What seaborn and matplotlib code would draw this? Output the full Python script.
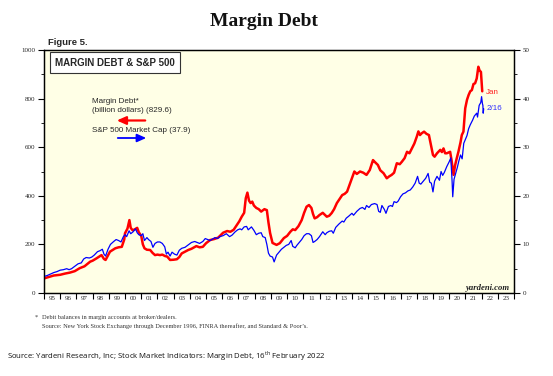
import numpy as np
import pandas as pd
import matplotlib
matplotlib.use("Agg")
import matplotlib.pyplot as plt
import seaborn as sns
from matplotlib.ticker import FixedLocator, MultipleLocator, NullFormatter

# ---------------- data ----------------
margin_year = [1995.0, 1995.3, 1995.6, 1996.0, 1996.3, 1996.6, 1996.9, 1997.2, 1997.5, 1997.85,
               1998.0, 1998.25, 1998.55, 1998.7, 1998.8, 1999.07, 1999.4, 1999.6, 1999.8, 1999.95,
               2000.0, 2000.15, 2000.27, 2000.35, 2000.47, 2000.6, 2000.75, 2000.85, 2001.0, 2001.1,
               2001.2, 2001.35, 2001.55, 2001.7, 2001.85, 2002.0, 2002.16, 2002.3, 2002.47, 2002.6,
               2002.78, 2003.0, 2003.2, 2003.35, 2003.5, 2003.7, 2003.9, 2004.1, 2004.4, 2004.6,
               2004.8, 2005.0, 2005.25, 2005.5, 2005.75, 2006.05, 2006.3, 2006.5, 2006.7, 2006.9,
               2007.05, 2007.2, 2007.35, 2007.45, 2007.55, 2007.65, 2007.75, 2007.85, 2007.95, 2008.1,
               2008.25, 2008.4, 2008.6, 2008.75, 2008.85, 2008.95, 2009.1, 2009.35, 2009.55, 2009.8,
               2010.0, 2010.2, 2010.35, 2010.5, 2010.7, 2010.9, 2011.05, 2011.2, 2011.35, 2011.5,
               2011.6, 2011.7, 2011.85, 2012.0, 2012.2, 2012.45, 2012.6, 2012.75, 2012.9, 2013.07,
               2013.25, 2013.4, 2013.55, 2013.7, 2013.85, 2014.0, 2014.15, 2014.3, 2014.5, 2014.7,
               2014.9, 2015.1, 2015.3, 2015.4, 2015.6, 2015.75, 2015.95, 2016.15, 2016.3, 2016.45,
               2016.6, 2016.77, 2016.95, 2017.08, 2017.25, 2017.4, 2017.55, 2017.7, 2017.85, 2018.0,
               2018.1, 2018.2, 2018.3, 2018.45, 2018.6, 2018.75, 2018.9, 2019.0, 2019.1, 2019.25,
               2019.45, 2019.55, 2019.65, 2019.75, 2019.85, 2020.06, 2020.15, 2020.27, 2020.37, 2020.47,
               2020.57, 2020.7, 2020.78, 2020.88, 2020.99, 2021.1, 2021.2, 2021.3, 2021.4, 2021.5,
               2021.6, 2021.7, 2021.8, 2021.88, 2021.96, 2022.04]
margin_debt = [60, 66, 72, 75, 80, 84, 90, 102, 110, 129,
               133, 143, 156, 140, 136, 170, 184, 188, 190, 220,
               246, 265, 300, 268, 258, 262, 268, 250, 235, 200,
               184, 178, 177, 165, 156, 158, 156, 158, 152, 150,
               136, 137, 139, 148, 163, 170, 177, 182, 193, 188,
               190, 205, 218, 222, 228, 248, 255, 252, 260, 280,
               295, 314, 330, 390, 413, 380, 370, 376, 360, 350,
               345, 335, 345, 341, 290, 247, 206, 198, 205, 226,
               235, 252, 262, 259, 275, 300, 330, 355, 362, 350,
               325, 307, 312, 321, 330, 314, 318, 329, 345, 370,
               388, 403, 408, 417, 445, 473, 500, 490, 500, 495,
               486, 506, 547, 540, 527, 505, 493, 472, 480, 486,
               495, 534, 530, 540, 555, 581, 575, 595, 615, 643,
               665, 650, 657, 664, 655, 650, 600, 568, 561, 575,
               589, 580, 595, 575, 575, 581, 545, 486, 527, 555,
               581, 620, 650, 664, 760, 795, 815, 830, 835, 860,
               863, 883, 931, 915, 910, 830]

sp_year = [1995.0, 1995.2, 1995.4, 1995.6, 1995.8, 1996.0, 1996.2, 1996.4, 1996.55, 1996.7,
           1996.9, 1997.1, 1997.3, 1997.45, 1997.6, 1997.8, 1997.95, 1998.1, 1998.3, 1998.45,
           1998.6, 1998.7, 1998.8, 1998.95, 1999.1, 1999.3, 1999.45, 1999.6, 1999.75, 1999.9,
           2000.0, 2000.1, 2000.25, 2000.35, 2000.5, 2000.65, 2000.75, 2000.85, 2001.0, 2001.1,
           2001.2, 2001.35, 2001.45, 2001.6, 2001.72, 2001.85, 2002.0, 2002.15, 2002.3, 2002.45,
           2002.55, 2002.65, 2002.78, 2002.9, 2003.05, 2003.2, 2003.35, 2003.5, 2003.7, 2003.9,
           2004.1, 2004.3, 2004.45, 2004.6, 2004.8, 2004.95, 2005.1, 2005.25, 2005.4, 2005.55,
           2005.7, 2005.85, 2006.05, 2006.25, 2006.45, 2006.6, 2006.8, 2006.95, 2007.1, 2007.2,
           2007.35, 2007.5, 2007.6, 2007.7, 2007.8, 2007.95, 2008.1, 2008.25, 2008.4, 2008.5,
           2008.65, 2008.75, 2008.85, 2008.95, 2009.1, 2009.2, 2009.35, 2009.5, 2009.65, 2009.8,
           2009.95, 2010.1, 2010.25, 2010.35, 2010.5, 2010.6, 2010.75, 2010.9, 2011.05, 2011.2,
           2011.35, 2011.5, 2011.6, 2011.7, 2011.85, 2012.0, 2012.2, 2012.35, 2012.45, 2012.6,
           2012.75, 2012.85, 2013.0, 2013.2, 2013.4, 2013.5, 2013.65, 2013.8, 2014.0, 2014.1,
           2014.3, 2014.5, 2014.65, 2014.8, 2014.9, 2015.05, 2015.2, 2015.4, 2015.55, 2015.65,
           2015.75, 2015.85, 2016.0, 2016.1, 2016.25, 2016.4, 2016.5, 2016.6, 2016.75, 2016.85,
           2017.0, 2017.15, 2017.3, 2017.45, 2017.6, 2017.75, 2017.9, 2018.05, 2018.15, 2018.25,
           2018.4, 2018.55, 2018.7, 2018.8, 2018.9, 2019.0, 2019.1, 2019.25, 2019.4, 2019.5,
           2019.6, 2019.7, 2019.85, 2020.0, 2020.1, 2020.18, 2020.22, 2020.3, 2020.4, 2020.5,
           2020.6, 2020.7, 2020.8, 2020.9, 2021.0, 2021.1, 2021.2, 2021.3, 2021.45, 2021.55,
           2021.7, 2021.75, 2021.85, 2021.95, 2022.0, 2022.05, 2022.08, 2022.1, 2022.13]
sp_mktcap = [3.4, 3.6, 3.9, 4.2, 4.4, 4.7, 4.8, 5.0, 4.8, 5.0,
             5.5, 6.0, 6.2, 7.0, 7.3, 7.2, 7.4, 7.8, 8.5, 8.7,
             9.0, 8.0, 7.6, 9.0, 10.0, 10.6, 11.0, 10.8, 10.5, 11.6,
             12.0, 11.6, 12.8, 12.2, 12.6, 13.2, 12.4, 12.0, 11.8, 12.2,
             10.8, 11.4, 11.0, 10.6, 9.4, 10.2, 10.5, 10.5, 10.2, 9.5,
             8.0, 8.4, 7.6, 8.4, 8.0, 7.8, 8.8, 9.2, 9.4, 9.9,
             10.4, 10.6, 10.4, 10.2, 10.6, 11.2, 11.0, 10.8, 11.1, 11.4,
             11.2, 11.6, 11.8, 12.2, 11.6, 11.9, 12.6, 13.0, 13.2, 13.0,
             13.6, 13.7, 13.0, 13.3, 13.6, 12.9, 12.0, 12.3, 12.4, 11.6,
             11.4, 10.0, 8.2, 7.6, 7.4, 6.4, 7.8, 8.4, 9.0, 9.4,
             9.8, 10.0, 10.8, 9.6, 9.3, 9.8, 10.4, 11.0, 11.8, 12.2,
             12.2, 11.8, 10.4, 10.6, 11.0, 11.6, 12.6, 12.0, 12.4, 12.7,
             12.8, 12.3, 13.5, 14.2, 14.8, 14.6, 15.4, 15.8, 16.4, 16.0,
             16.8, 17.4, 17.6, 17.2, 18.0, 17.6, 18.2, 18.4, 18.2, 16.8,
             16.6, 18.0, 17.2, 16.4, 17.8, 18.0, 17.8, 18.8, 18.6, 18.9,
             19.8, 20.4, 20.6, 21.0, 21.2, 21.8, 22.6, 24.0, 22.6, 22.4,
             23.0, 23.6, 24.6, 22.8, 22.6, 20.8, 23.0, 24.0, 23.2, 25.0,
             24.2, 24.8, 26.0, 27.0, 27.8, 23.0, 19.8, 23.4, 24.6, 25.8,
             27.2, 28.4, 27.6, 30.8, 31.6, 32.4, 33.8, 34.6, 35.6, 36.4,
             37.0, 36.2, 38.6, 39.2, 40.4, 39.0, 38.6, 37.0, 37.9]

year_labels = ["95", "96", "97", "98", "99", "00", "01", "02", "03", "04", "05", "06", "07", "08",
               "09", "10", "11", "12", "13", "14", "15", "16", "17", "18", "19", "20", "21", "22", "23"]
left_ticks = [0, 200, 400, 600, 800, 1000]
right_ticks = [0, 10, 20, 30, 40, 50]

margin_df = pd.DataFrame({"year": margin_year, "value": margin_debt})
sp_df = pd.DataFrame({"year": sp_year, "value": sp_mktcap})

# ---------------- figure ----------------
sns.set_theme(style="white")
plt.rcParams["font.family"] = ["Liberation Sans", "DejaVu Sans"]

W, H = 553, 376
fig = plt.figure(figsize=(W / 100, H / 100), dpi=100)
fig.patch.set_facecolor("white")

def fx(x):
    return x / W

def fy(y):
    return 1 - y / H

ax = fig.add_axes([fx(44), fy(293), (514 - 44) / W, (293 - 50) / H])
ax.set_facecolor("#FFFFE6")
ax2 = ax.twinx()

sns.lineplot(data=margin_df, x="year", y="value", ax=ax, color="#FF0000", lw=1.8,
             estimator=None, sort=False, legend=False)
sns.lineplot(data=sp_df, x="year", y="value", ax=ax2, color="#0000FF", lw=0.9,
             estimator=None, sort=False, legend=False)

ax.set_xlim(1995, 2024)
ax.set_ylim(0, 1000)
ax2.set_ylim(0, 50)
for a in (ax, ax2):
    a.set_xlabel("")
    a.set_ylabel("")
    for s in a.spines.values():
        s.set_color("black")
        s.set_linewidth(0.9)

tick_font = dict(family="Liberation Serif", size=5.0)
ax.xaxis.set_major_locator(FixedLocator(list(range(1995, 2025))))
ax.xaxis.set_major_formatter(NullFormatter())
ax.set_xticks([1995.5 + i for i in range(len(year_labels))], minor=True)
ax.set_xticklabels(year_labels, minor=True, fontdict=tick_font)
ax.tick_params(axis="x", which="major", direction="out", length=4, width=0.8, color="black", bottom=True)
ax.tick_params(axis="x", which="minor", length=0, pad=2.5, bottom=True)

ax.set_yticks(left_ticks)
ax.set_yticklabels([str(v) for v in left_ticks], fontdict=tick_font)
ax.yaxis.set_minor_locator(MultipleLocator(100))
ax.tick_params(axis="y", which="major", direction="out", length=4, width=0.8, color="black", left=True, pad=2)
ax.tick_params(axis="y", which="minor", direction="out", length=2, width=0.6, color="black", left=True)

ax2.set_yticks(right_ticks)
ax2.set_yticklabels([str(v) for v in right_ticks], fontdict=tick_font)
ax2.yaxis.set_minor_locator(MultipleLocator(5))
ax2.tick_params(axis="y", which="major", direction="out", length=4, width=0.8, color="black", right=True, pad=2)
ax2.tick_params(axis="y", which="minor", direction="out", length=2, width=0.6, color="black", right=True)

# ---------------- texts ----------------
fig.text(fx(264), fy(21), "Margin Debt", ha="center", va="center",
         family="Liberation Serif", weight="bold", size=14, color="#111111")
fig.text(fx(48), fy(42.5), "Figure 5.", ha="left", va="center", weight="bold", size=6.8)

fig.text(fx(115), fy(62.5), "MARGIN DEBT & S&P 500", ha="center", va="center", weight="bold", size=7,
         bbox=dict(boxstyle="square,pad=0.55", fc="white", ec="#333333", lw=0.8))

fig.text(fx(92), fy(102), "Margin Debt*", ha="left", va="center", size=5.8)
fig.text(fx(92), fy(111), "(billion dollars) (829.6)", ha="left", va="center", size=5.8)
fig.text(fx(92), fy(130), "S&P 500 Market Cap (37.9)", ha="left", va="center", size=5.8)
ax.annotate("", xy=(fx(114), fy(120.5)), xytext=(fx(148), fy(120.5)), xycoords="figure fraction",
            textcoords="figure fraction",
            arrowprops=dict(arrowstyle="-|>,head_length=0.45,head_width=0.2", color="#FF0000", lw=1.6))
ax.annotate("", xy=(fx(149), fy(138)), xytext=(fx(115), fy(138)), xycoords="figure fraction",
            textcoords="figure fraction",
            arrowprops=dict(arrowstyle="-|>,head_length=0.45,head_width=0.2", color="#0000FF", lw=1.3))

fig.text(fx(486), fy(92), "Jan", ha="left", va="center", size=5.8, color="#FF2020")
fig.text(fx(487), fy(109), "2/16", ha="left", va="center", size=5.8, color="#3030FF")

fig.text(fx(510), fy(287.5), "yardeni.com", ha="right", va="center", family="Liberation Serif",
         weight="bold", style="italic", size=6.2, color="#222222")

fig.text(fx(35), fy(317), "*", ha="left", va="center", family="Liberation Serif", size=4.6, color="#333333")
fig.text(fx(42), fy(318), "Debit balances in margin accounts at broker/dealers.", ha="left", va="center",
         family="Liberation Serif", size=4.6, color="#333333")
fig.text(fx(42), fy(326), "Source: New York Stock Exchange through December 1996, FINRA thereafter, and Standard & Poor\u2019s.",
         ha="left", va="center", family="Liberation Serif", size=4.6, color="#333333")

fig.text(fx(7), fy(356), "Source: Yardeni Research, Inc; Stock Market Indicators: Margin Debt, 16$^{\\mathregular{th}}$ February 2022",
         ha="left", va="center", family="Open Sans", size=5.6, color="#111111")

fig.savefig("out.png", dpi=100, facecolor="white")
